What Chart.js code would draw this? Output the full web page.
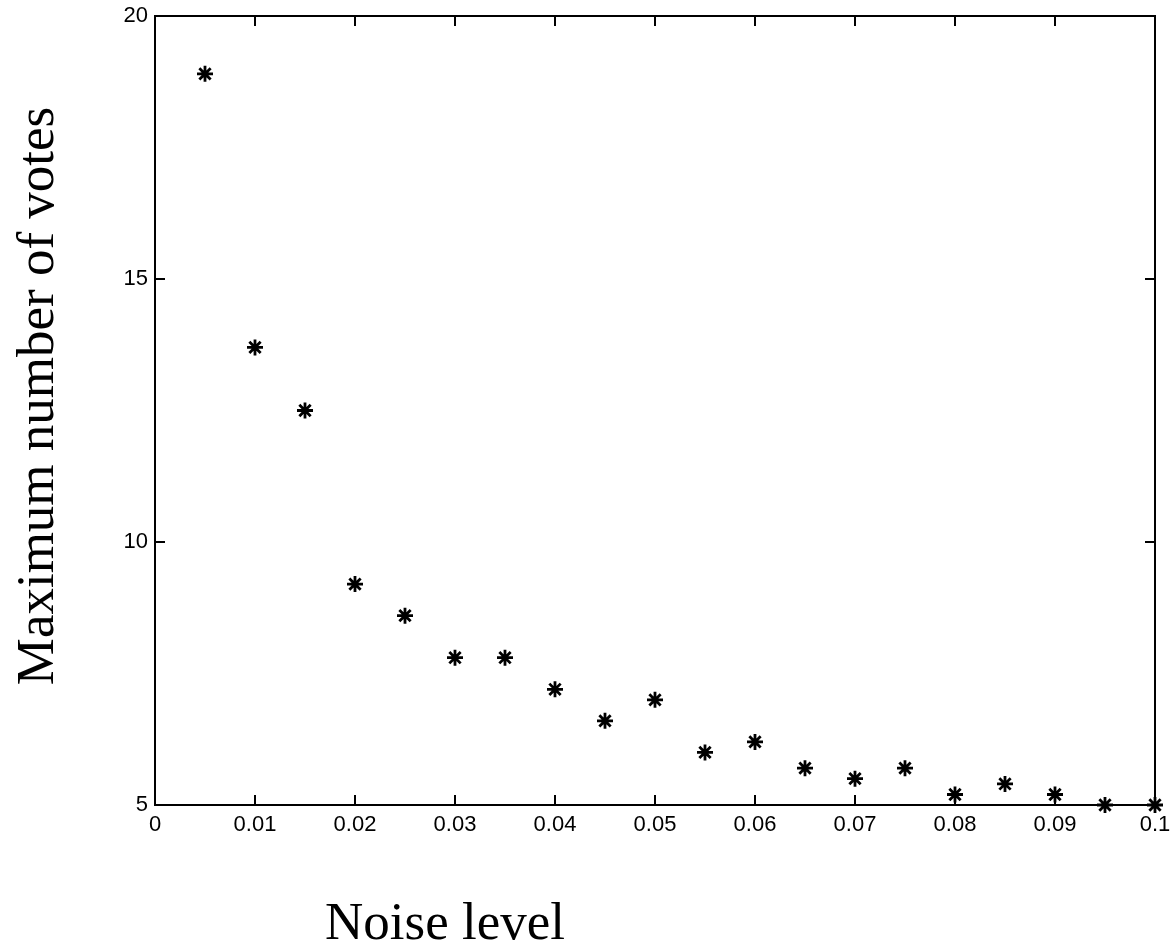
<!DOCTYPE html>
<html>
<head>
<meta charset="utf-8">
<script src="https://cdn.jsdelivr.net/npm/chart.js@4"></script>
<style>
  html, body { margin: 0; padding: 0; background: #fff; }
  #wrap { width: 1170px; height: 943px; }
</style>
</head>
<body>
<div id="wrap"><canvas id="chart"></canvas></div>
<script>
const noiseLevels = [0.005, 0.01, 0.015, 0.02, 0.025, 0.03, 0.035, 0.04, 0.045, 0.05,
                     0.055, 0.06, 0.065, 0.07, 0.075, 0.08, 0.085, 0.09, 0.095, 0.1];
const maxVotes = [18.9, 13.7, 12.5, 9.2, 8.6, 7.8, 7.8, 7.2, 6.6, 7.0,
                  6.0, 6.2, 5.7, 5.5, 5.7, 5.2, 5.4, 5.2, 5.0, 5.0];
const xTicks = [0, 0.01, 0.02, 0.03, 0.04, 0.05, 0.06, 0.07, 0.08, 0.09, 0.1];
const yTicks = [5, 10, 15, 20];
const xTitle = 'Noise level';
const yTitle = 'Maximum number of votes';

// frame, inward ticks on all four sides, and the two serif axis titles
const framePlugin = {
  id: 'frame',
  afterDraw(chart) {
    const { ctx, chartArea: a, scales: { x, y } } = chart;
    const tick = 10;
    ctx.save();
    ctx.strokeStyle = '#000';
    ctx.lineWidth = 2;
    ctx.strokeRect(a.left, a.top, a.right - a.left, a.bottom - a.top);
    ctx.beginPath();
    xTicks.forEach(v => {
      const px = x.getPixelForValue(v);
      ctx.moveTo(px, a.bottom); ctx.lineTo(px, a.bottom - tick);
      ctx.moveTo(px, a.top); ctx.lineTo(px, a.top + tick);
    });
    yTicks.forEach(v => {
      const py = y.getPixelForValue(v);
      ctx.moveTo(a.left, py); ctx.lineTo(a.left + tick, py);
      ctx.moveTo(a.right, py); ctx.lineTo(a.right - tick, py);
    });
    ctx.stroke();

    ctx.fillStyle = '#000';
    ctx.font = '53px "Liberation Serif", "Times New Roman", serif';
    ctx.textAlign = 'center';
    ctx.textBaseline = 'alphabetic';
    ctx.fillText(xTitle, 445, 939);
    ctx.translate(53, 396);
    ctx.rotate(-Math.PI / 2);
    ctx.fillText(yTitle, 0, 0);
    ctx.restore();
  }
};

const tickFont = { family: '"Liberation Sans", Arial, sans-serif', size: 22 };

new Chart(document.getElementById('chart'), {
  type: 'scatter',
  data: {
    datasets: [{
      label: 'votes',
      data: noiseLevels.map((n, i) => ({ x: n, y: maxVotes[i] })),
      pointStyle: 'star',
      pointRadius: 8,
      pointHoverRadius: 8,
      borderColor: '#000',
      backgroundColor: '#000',
      borderWidth: 2.8,
      clip: false
    }]
  },
  options: {
    responsive: true,
    maintainAspectRatio: false,
    animation: false,
    layout: { padding: { top: 16, right: 15, left: 0, bottom: 0 } },
    plugins: {
      legend: { display: false },
      tooltip: { enabled: false }
    },
    scales: {
      x: {
        type: 'linear',
        min: 0,
        max: 0.1,
        grid: { display: false, drawTicks: false },
        border: { display: false },
        afterBuildTicks: s => { s.ticks = xTicks.map(v => ({ value: v })); },
        afterFit: s => { s.height = 138; s.paddingLeft = 0; s.paddingRight = 0; },
        ticks: {
          padding: 7,
          color: '#000',
          maxRotation: 0,
          font: tickFont,
          callback: v => String(+(+v).toFixed(2))
        }
      },
      y: {
        type: 'linear',
        min: 5,
        max: 20,
        grid: { display: false, drawTicks: false },
        border: { display: false },
        afterBuildTicks: s => { s.ticks = yTicks.map(v => ({ value: v })); },
        afterFit: s => { s.width = 155; s.paddingTop = 0; s.paddingBottom = 0; },
        ticks: {
          padding: 7,
          color: '#000',
          font: tickFont
        }
      }
    }
  },
  plugins: [framePlugin]
});
</script>
</body>
</html>
